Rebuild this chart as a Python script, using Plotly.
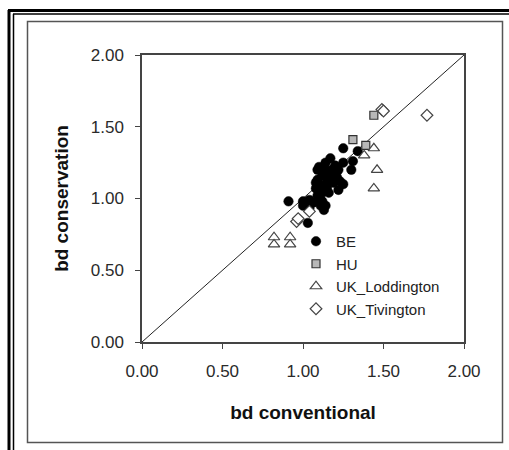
import plotly.graph_objects as go

# ---- data ----
be_x = [0.91, 1.25, 1.17, 1.34, 1.31, 1.25, 1.30, 1.22, 1.09, 1.14, 1.17, 1.21, 1.09, 1.25,
        1.19, 1.15, 1.08, 1.22, 1.12, 1.04, 1.11, 1.00, 1.13, 1.03, 1.11, 1.10, 1.12, 1.15,
        1.18, 1.14, 1.20, 1.11, 1.13, 1.09, 1.06, 1.12, 1.17, 1.23, 1.14, 1.04, 1.00, 1.08,
        1.16, 1.20, 1.13]
be_y = [0.98, 1.35, 1.28, 1.33, 1.26, 1.25, 1.20, 1.20, 1.20, 1.20, 1.16, 1.15, 1.13, 1.10,
        1.11, 1.08, 1.07, 1.06, 1.04, 0.99, 0.99, 0.95, 0.92, 0.83, 0.95, 1.22, 1.16, 1.13,
        1.20, 1.25, 1.18, 1.09, 1.05, 1.02, 0.97, 0.98, 1.14, 1.12, 0.95, 0.93, 0.98, 1.11,
        1.04, 1.23, 1.19]
hu_x = [1.44, 1.31, 1.39]
hu_y = [1.58, 1.41, 1.37]
lod_x = [1.44, 1.38, 1.46, 1.44, 0.82, 0.82, 0.92, 0.92]
lod_y = [1.35, 1.30, 1.20, 1.07, 0.73, 0.68, 0.73, 0.68]
tiv_x = [1.49, 1.50, 1.77, 1.04, 0.96, 0.97]
tiv_y = [1.62, 1.61, 1.58, 0.91, 0.84, 0.86]
diag = [0, 2]
tick_vals = [0, 0.5, 1.0, 1.5, 2.0]
tick_text = ["0.00", "0.50", "1.00", "1.50", "2.00"]

FONT = "Liberation Sans, Arial, sans-serif"
W, H = 509, 450
L, R, T, B = 142, 45, 55, 108
PW, PH = W - L - R, H - T - B


def px(x):
    return (x - L) / PW


def py(y):
    return (H - B - y) / PH


fig = go.Figure()
fig.add_trace(go.Scatter(x=diag, y=diag, mode="lines", line=dict(color="#222", width=1),
                         showlegend=False, hoverinfo="skip"))
fig.add_trace(go.Scatter(x=be_x, y=be_y, mode="markers", name="BE",
                         marker=dict(symbol="circle", size=9.5, color="black",
                                     line=dict(color="black", width=0.5))))
fig.add_trace(go.Scatter(x=hu_x, y=hu_y, mode="markers", name="HU",
                         marker=dict(symbol="square", size=8, color="#b8b8b8",
                                     line=dict(color="#333", width=1.2))))
fig.add_trace(go.Scatter(x=lod_x, y=lod_y, mode="markers", name="UK_Loddington",
                         marker=dict(symbol="triangle-up", size=10, color="white",
                                     line=dict(color="#444", width=1.2))))
fig.add_trace(go.Scatter(x=tiv_x, y=tiv_y, mode="markers", name="UK_Tivington",
                         marker=dict(symbol="diamond", size=9, color="white",
                                     line=dict(color="#444", width=1.2))))

axis_common = dict(range=[0, 2], tickvals=tick_vals, ticktext=tick_text,
                   showgrid=False, zeroline=False, showline=True, linecolor="#444",
                   linewidth=1.5, mirror=True, ticks="outside", ticklen=5,
                   tickcolor="#444", ticklabelstandoff=8,
                   tickfont=dict(family=FONT, size=17, color="#2a2a2a"))

fig.update_layout(
    width=W, height=H, margin=dict(l=L, r=R, t=T, b=B),
    paper_bgcolor="white", plot_bgcolor="white",
    xaxis=dict(**axis_common, title=dict(text="<b>bd conventional</b>",
                                         font=dict(family=FONT, size=19, color="#111"),
                                         standoff=26)),
    yaxis=dict(**axis_common, title=dict(text="<b>bd conservation</b>",
                                         font=dict(family=FONT, size=19, color="#111"),
                                         standoff=17)),
    legend=dict(x=px(296), y=py(225), xanchor="left", yanchor="top",
                bgcolor="rgba(0,0,0,0)", borderwidth=0,
                font=dict(family=FONT, size=15, color="#222"),
                tracegroupgap=0, itemsizing="trace"),
    showlegend=True,
)

shapes = []
# outer double frame
shapes.append(dict(type="line", xref="paper", yref="paper", x0=px(9), x1=px(9),
                   y0=py(10), y1=py(460), line=dict(color="black", width=3)))
shapes.append(dict(type="line", xref="paper", yref="paper", x0=px(8), x1=px(520),
                   y0=py(10.5), y1=py(10.5), line=dict(color="black", width=3)))
shapes.append(dict(type="line", xref="paper", yref="paper", x0=px(13.5), x1=px(13.5),
                   y0=py(14), y1=py(460), line=dict(color="black", width=1.5)))
shapes.append(dict(type="line", xref="paper", yref="paper", x0=px(13), x1=px(520),
                   y0=py(14), y1=py(14), line=dict(color="black", width=1.5)))
# inner grey box
shapes.append(dict(type="rect", xref="paper", yref="paper", x0=px(27.5), x1=px(502.5),
                   y0=py(442.5), y1=py(21.5), line=dict(color="#555", width=1.5)))
fig.update_layout(shapes=shapes)

fig.write_html("out.html")
